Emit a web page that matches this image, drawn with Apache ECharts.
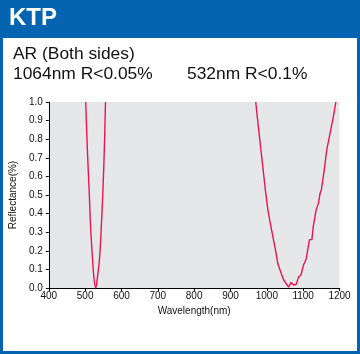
<!DOCTYPE html>
<html>
<head>
<meta charset="utf-8">
<script src="https://cdn.jsdelivr.net/npm/echarts@6/dist/echarts.min.js"></script>
<style>
html,body{margin:0;padding:0;background:#fff;}
#c{width:360px;height:354px;}
</style>
</head>
<body>
<div id="c"></div>
<script>
// Data
var xTicks = [400, 500, 600, 700, 800, 900, 1000, 1100, 1200];
var yTicks = [0.0, 0.1, 0.2, 0.3, 0.4, 0.5, 0.6, 0.7, 0.8, 0.9, 1.0];
// 532 nm band (wavelength, reflectance %)
var band532Wl = [501.6, 506, 511, 515, 520, 524, 529, 534, 540, 545, 549, 553, 556];
var band532R  = [1.0, 0.75, 0.527, 0.33, 0.168, 0.06, 0.0, 0.06, 0.168, 0.35, 0.527, 0.76, 1.0];
// 1064 nm band
var band1064Wl = [969.5, 975.7, 985.8, 996, 1003, 1013, 1024, 1030, 1039.5, 1046.6, 1056, 1060, 1066.8, 1073.8, 1081, 1087.5, 1094, 1101, 1108.4, 1117.4, 1124, 1128, 1135.7, 1142, 1146.6, 1150, 1154, 1158, 1164.9, 1175.8, 1183, 1190];
var band1064R  = [1.0, 0.885, 0.706, 0.527, 0.419, 0.312, 0.204, 0.133, 0.079, 0.043, 0.016, 0.005, 0.03, 0.016, 0.02, 0.06, 0.07, 0.124, 0.156, 0.26, 0.26, 0.333, 0.42, 0.455, 0.51, 0.527, 0.527, 0.634, 0.742, 0.849, 0.92, 1.0];
var titleText = 'KTP';
var subLine1 = 'AR (Both sides)';
var subLine2a = '1064nm R<0.05%';
var subLine2b = '532nm R<0.1%';
var xName = 'Wavelength(nm)';
var yName = 'Reflectance(%)';

function pairs(xs, ys){ return xs.map(function(x,i){ return [x, ys[i]]; }); }

var blue = '#0564b2';
var lineColor = '#e8154f';
var font = '"Liberation Sans", Arial, Helvetica, sans-serif';

var chart = echarts.init(document.getElementById('c'), null, {renderer:'canvas'});
chart.setOption({
  animation: false,
  backgroundColor: '#fff',
  graphic: [
    {type:'rect', shape:{x:0, y:0, width:360, height:38}, style:{fill:blue}, z:-1},
    {type:'rect', shape:{x:0, y:0, width:3, height:354}, style:{fill:blue}, z:-1},
    {type:'rect', shape:{x:357, y:0, width:3, height:354}, style:{fill:blue}, z:-1},
    {type:'rect', shape:{x:0, y:351, width:360, height:3}, style:{fill:blue}, z:-1}
  ],
  title: [
    {text: titleText, left: 9, top: 6, textStyle:{color:'#fff', fontSize:24, fontWeight:'bold', fontFamily:font}, padding:0},
    {text: subLine1, left: 13, top: 46, textStyle:{color:'#111', fontSize:17.4, fontWeight:'normal', fontFamily:font}, padding:0},
    {text: subLine2a, left: 13, top: 66, textStyle:{color:'#111', fontSize:17.4, fontWeight:'normal', fontFamily:font}, padding:0},
    {text: subLine2b, left: 187, top: 66, textStyle:{color:'#111', fontSize:17.4, fontWeight:'normal', fontFamily:font}, padding:0}
  ],
  grid: {left:46, right:20.5, top:102, bottom:66, show:true, backgroundColor:'#e6e7e8', borderWidth:0},
  xAxis: {
    type:'value', min:xTicks[0], max:xTicks[xTicks.length-1], interval:100,
    name:xName, nameLocation:'middle', nameGap:14,
    nameTextStyle:{fontSize:10, color:'#111', fontFamily:font},
    axisLine:{show:true, lineStyle:{color:'#000', width:1}},
    axisTick:{show:true, length:3, lineStyle:{color:'#000'}},
    axisLabel:{fontSize:10, color:'#111', margin:3, fontFamily:font, formatter:function(v){return String(v);}},
    splitLine:{show:false}
  },
  yAxis: {
    type:'value', min:yTicks[0], max:yTicks[yTicks.length-1], interval:0.1,
    name:yName, nameLocation:'middle', nameGap:25,
    nameTextStyle:{fontSize:10, color:'#111', fontFamily:font},
    axisLine:{show:true, lineStyle:{color:'#000', width:1}},
    axisTick:{show:true, length:3, lineStyle:{color:'#000'}},
    axisLabel:{fontSize:10, color:'#111', margin:6, fontFamily:font, formatter:function(v){return v.toFixed(1);}},
    splitLine:{show:false}
  },
  series: [
    {type:'line', data:pairs(band532Wl, band532R), smooth:0.4, showSymbol:false, clip:true, lineStyle:{color:lineColor, width:1.4}},
    {type:'line', data:pairs(band1064Wl, band1064R), smooth:false, showSymbol:false, clip:true, lineStyle:{color:lineColor, width:1.4}}
  ]
});
</script>
</body>
</html>
